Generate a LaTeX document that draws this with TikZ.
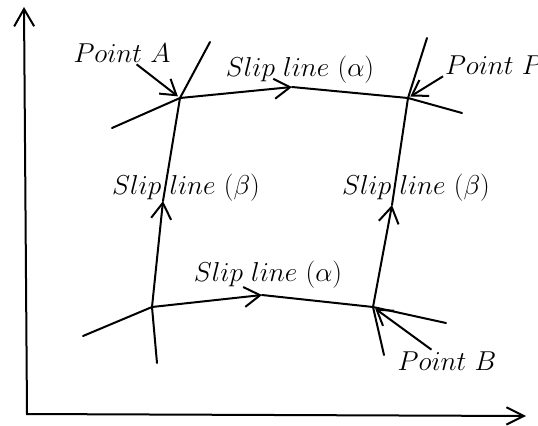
\RequirePackage{fix-cm}
\documentclass[tikz,border=0pt]{standalone}
\usetikzlibrary{arrows.meta}

\tikzset{every picture/.style={line width=1.5pt},
  slip/.style={line width=1.5pt, line cap=round},
  flow/.style={slip, -{Straight Barb[length=12pt,width=15pt]}},
  pointer/.style={line width=1.5pt, -{Straight Barb[length=11pt,width=14pt]}, shorten >=2pt},
  axes/.style={line width=1.5pt, {Straight Barb[length=13pt,width=15pt]}-{Straight Barb[length=13pt,width=13pt]}},
  lbl/.style={inner sep=0.75pt, font=\fontsize{20.5}{24}\selectfont}}

\begin{document}
\begin{tikzpicture}[x=0.75pt,y=0.75pt,yscale=-1,xscale=1]
\useasboundingbox (0,0) rectangle (538,425);

%Axes
\coordinate (O) at (27,414);
\coordinate (yTop) at (24,7);
\coordinate (xEnd) at (526,416);
\draw [axes] (yTop) -- (O) -- (xEnd);

%Net corners
\coordinate (A) at (180,98);
\coordinate (P) at (408,98);
\coordinate (C) at (152,307);
\coordinate (B) at (373,307);
%Arrow points on the slip lines
\coordinate (aTop) at (292,87);
\coordinate (aBot) at (262,295);
\coordinate (bLeft) at (163,201);
\coordinate (bRight) at (392,205);
%Free ends
\coordinate (A1) at (210,42);
\coordinate (A2) at (112,128);
\coordinate (P1) at (427,38);
\coordinate (P2) at (462,113);
\coordinate (C1) at (83,336);
\coordinate (C2) at (157,363);
\coordinate (B1) at (446,323);
\coordinate (B2) at (384,355);

%Slip lines (alpha)
\draw [flow] (A) -- (aTop);
\draw [slip] (aTop) -- (P);
\draw [flow] (C) -- (aBot);
\draw [slip] (aBot) -- (B);
%Slip lines (beta)
\draw [flow] (C) -- (bLeft);
\draw [slip] (bLeft) -- (A);
\draw [flow] (B) -- (bRight);
\draw [slip] (bRight) -- (P);
%Extensions
\draw [slip] (A) -- (A1);
\draw [slip] (A) -- (A2);
\draw [slip] (P) -- (P1);
\draw [slip] (P) -- (P2);
\draw [slip] (C) -- (C1);
\draw [slip] (C) -- (C2);
\draw [slip] (B) -- (B1);
\draw [slip] (B) -- (B2);

% Text Node
\node [lbl] (labA) at (122,53) {$Point\ A$};
\node [lbl, anchor=west] (labP) at (443,65) {$Point\ P$};
\node [lbl] (labB) at (447,361) {$Point\ B$};
\node [lbl, anchor=base] (alphaTop) at (300,76) {$Slip\ line\ (\alpha)$};
\node [lbl, anchor=base] (alphaBot) at (268,281) {$Slip\ line\ (\alpha)$};
\node [lbl, anchor=base] (betaLeft) at (186,194) {$Slip\ line\ (\beta)$};
\node [lbl, anchor=base] (betaRight) at (416,194) {$Slip\ line\ (\beta)$};

%Pointers
\draw [pointer] (labA) -- (A);
\draw [pointer] (labP.south west) -- (P);
\draw [pointer] (labB) -- (B);

\end{tikzpicture}
\end{document}
